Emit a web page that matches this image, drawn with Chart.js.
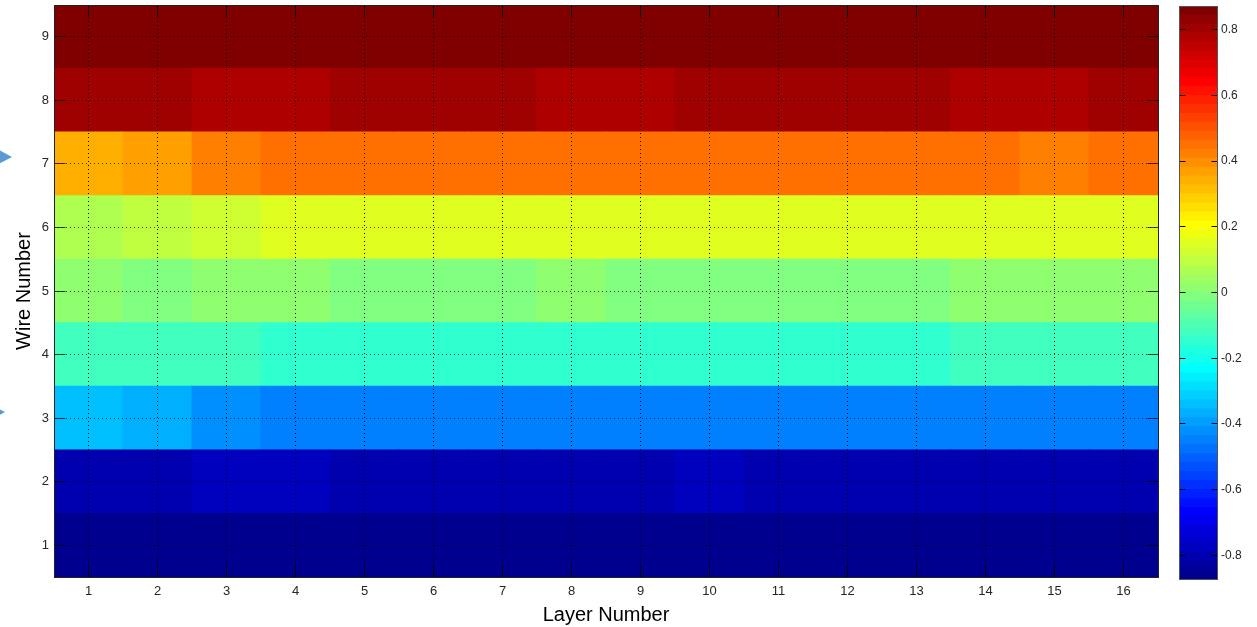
<!DOCTYPE html>
<html>
<head>
<meta charset="utf-8">
<script src="https://cdn.jsdelivr.net/npm/chart.js@4.4.1/dist/chart.umd.min.js"></script>
<style>
  html, body { margin: 0; padding: 0; background: #fff; }
  #wrap { position: relative; width: 1257px; height: 627px; overflow: hidden; }
  #map { position: absolute; left: 0; top: 0; }
  #bar { position: absolute; left: 1170px; top: 0; }
</style>
</head>
<body>
<div id="wrap">
  <canvas id="map" width="1170" height="627"></canvas>
  <canvas id="bar" width="87" height="627"></canvas>
</div>
<script>
// Data
const layers = ['1','2','3','4','5','6','7','8','9','10','11','12','13','14','15','16'];
const wires = [1, 2, 3, 4, 5, 6, 7, 8, 9];
const wire1 = [-0.86,-0.86,-0.86,-0.86,-0.86,-0.86,-0.86,-0.86,-0.86,-0.86,-0.86,-0.86,-0.86,-0.86,-0.86,-0.86];
const wire2 = [-0.80,-0.80,-0.78,-0.78,-0.80,-0.80,-0.80,-0.80,-0.80,-0.78,-0.80,-0.80,-0.80,-0.80,-0.80,-0.80];
const wire3 = [-0.34,-0.37,-0.42,-0.45,-0.45,-0.45,-0.45,-0.45,-0.45,-0.45,-0.45,-0.45,-0.45,-0.45,-0.45,-0.45];
const wire4 = [-0.12,-0.12,-0.13,-0.15,-0.15,-0.15,-0.15,-0.15,-0.15,-0.15,-0.15,-0.15,-0.15,-0.13,-0.13,-0.12];
const wire5 = [0.02,-0.01,0.01,0.01,-0.01,-0.01,-0.01,0.02,-0.01,-0.01,-0.01,-0.01,-0.01,0.01,0.01,0.01];
const wire6 = [0.07,0.10,0.12,0.15,0.15,0.16,0.16,0.15,0.15,0.16,0.16,0.15,0.15,0.15,0.15,0.16];
const wire7 = [0.34,0.37,0.42,0.45,0.45,0.45,0.45,0.45,0.45,0.45,0.45,0.45,0.45,0.45,0.42,0.44];
const wire8 = [0.80,0.80,0.78,0.78,0.80,0.80,0.80,0.78,0.78,0.80,0.80,0.80,0.80,0.78,0.78,0.80];
const wire9 = [0.86,0.86,0.87,0.87,0.86,0.86,0.86,0.87,0.87,0.86,0.86,0.86,0.86,0.87,0.87,0.86];
const cellValues = [wire1, wire2, wire3, wire4, wire5, wire6, wire7, wire8, wire9];
const colorTicks = [-0.8, -0.6, -0.4, -0.2, 0, 0.2, 0.4, 0.6, 0.8];
const cMin = -0.872, cMax = 0.872;
const nColors = 64;

const fam = '"Liberation Sans", Arial, Helvetica, sans-serif';

// jet(64) like matlab
function jetIndex(v) {
  const i = Math.floor((v - cMin) / (cMax - cMin) * nColors) + 1;
  return Math.min(nColors, Math.max(1, i));
}
function jetColor(i) {
  const c = x => Math.round(255 * Math.min(1, Math.max(0, x)));
  const r = c(Math.min((i - 24) / 16, (72 - i) / 16));
  const g = c(Math.min((i - 8) / 16, (56 - i) / 16));
  const b = c(Math.min((i + 8) / 16, (40 - i) / 16));
  return `rgb(${r},${g},${b})`;
}

// box + inward ticks on all sides, plus the two arrow marks
const arrowMarks = [{wire: 7, tip: 12, dy: -7}, {wire: 3, tip: 5, dy: -6}];
const axesBox = {
  id: 'axesBox',
  afterDraw(chart) {
    const {ctx, chartArea: a, scales: {x, y}} = chart;
    const L = Math.floor(a.left) + 0.5, R = Math.floor(a.right) + 0.5;
    const T = Math.floor(a.top) + 0.5, B = Math.floor(a.bottom) + 0.5;
    const tl = 11;
    ctx.save();
    ctx.lineWidth = 1;
    ctx.strokeStyle = '#000';
    ctx.beginPath();
    x.ticks.forEach((t, i) => {
      const px = Math.floor(x.getPixelForTick(i)) + 0.5;
      ctx.moveTo(px, B); ctx.lineTo(px, B - tl);
      ctx.moveTo(px, T); ctx.lineTo(px, T + tl);
    });
    ctx.stroke();
    ctx.strokeStyle = 'rgba(0,0,0,0.75)';
    ctx.beginPath();
    y.ticks.forEach(t => {
      const py = Math.floor(y.getPixelForValue(t.value)) + 0.5;
      ctx.moveTo(L, py); ctx.lineTo(L + tl, py);
      ctx.moveTo(R, py); ctx.lineTo(R - tl, py);
    });
    ctx.stroke();
    ctx.strokeStyle = '#222';
    ctx.strokeRect(L, T, R - L, B - T);
    ctx.fillStyle = '#5B9BD5';
    arrowMarks.forEach(m => {
      const py = y.getPixelForValue(m.wire) + m.dy;
      ctx.beginPath();
      ctx.moveTo(m.tip - 15, py - 8);
      ctx.lineTo(m.tip, py);
      ctx.lineTo(m.tip - 15, py + 8);
      ctx.closePath();
      ctx.fill();
    });
    ctx.restore();
  }
};

new Chart(document.getElementById('map').getContext('2d'), {
  type: 'bar',
  data: {
    labels: layers,
    datasets: wires.map((w, k) => ({
      label: 'Wire ' + w,
      data: cellValues[k].map(() => [w - 0.5, w + 0.5]),
      backgroundColor: cellValues[k].map(v => jetColor(jetIndex(v))),
      borderWidth: 0,
      inflateAmount: 0.5,
      barPercentage: 1,
      categoryPercentage: 1,
      grouped: false
    }))
  },
  options: {
    responsive: false,
    animation: false,
    devicePixelRatio: 1,
    layout: { padding: { left: 0, top: 5, right: 12, bottom: 0 } },
    plugins: { legend: { display: false }, tooltip: { enabled: false } },
    scales: {
      x: {
        type: 'category',
        offset: true,
        grid: { offset: false, color: '#000', lineWidth: 1, drawTicks: false, z: 1 },
        border: { display: false, dash: [1, 3] },
        ticks: { color: '#262626', font: { family: fam, size: 13 }, padding: 7, maxRotation: 0, autoSkip: false },
        title: { display: true, text: 'Layer Number', color: '#000', font: { family: fam, size: 20 }, padding: { top: 0, bottom: 0 } },
        afterFit: s => { s.height = 50; s.paddingLeft = 0; s.paddingRight = 0; }
      },
      y: {
        type: 'linear',
        min: 0.5,
        max: 9.5,
        grid: { color: 'rgba(0,0,0,0.7)', lineWidth: 1, drawTicks: false, z: 1 },
        border: { display: false, dash: [1, 3] },
        ticks: { color: '#262626', font: { family: fam, size: 13 }, padding: 5 },
        afterBuildTicks: s => { s.ticks = wires.map(v => ({ value: v })); },
        title: { display: true, text: 'Wire Number', color: '#000', font: { family: fam, size: 20 }, padding: { top: 12, bottom: 0 } },
        afterFit: s => { s.width = 54; s.paddingTop = 0; s.paddingBottom = 0; }
      }
    }
  },
  plugins: [axesBox]
});

// Colorbar
const binWidth = (cMax - cMin) / nColors;
const colorBins = Array.from({ length: nColors }, (_, i) => i + 1);

const barBox = {
  id: 'barBox',
  afterDraw(chart) {
    const {ctx, chartArea: a, scales: {y}} = chart;
    const L = Math.floor(a.left) + 0.5, R = Math.floor(a.right) - 0.5;
    const T = Math.floor(a.top) + 0.5, B = Math.floor(a.bottom) + 0.5;
    ctx.save();
    ctx.lineWidth = 1;
    ctx.strokeStyle = '#000';
    ctx.beginPath();
    y.ticks.forEach(t => {
      const py = Math.floor(y.getPixelForValue(t.value)) + 0.5;
      ctx.moveTo(L, py); ctx.lineTo(L + 6, py);
      ctx.moveTo(R, py); ctx.lineTo(R - 6, py);
    });
    ctx.stroke();
    ctx.strokeStyle = '#555';
    ctx.strokeRect(L, T, R - L, B - T);
    ctx.restore();
  }
};

new Chart(document.getElementById('bar').getContext('2d'), {
  type: 'bar',
  data: {
    labels: [''],
    datasets: colorBins.map(i => ({
      data: [[cMin + (i - 1) * binWidth, cMin + i * binWidth]],
      backgroundColor: jetColor(i),
      borderWidth: 0,
      inflateAmount: 0.5,
      barPercentage: 1,
      categoryPercentage: 1,
      grouped: false
    }))
  },
  options: {
    responsive: false,
    animation: false,
    devicePixelRatio: 1,
    layout: { padding: { left: 9, top: 6, right: 0, bottom: 48 } },
    plugins: { legend: { display: false }, tooltip: { enabled: false } },
    scales: {
      x: { display: false },
      y: {
        position: 'right',
        min: cMin,
        max: cMax,
        grid: { display: false, drawTicks: false },
        border: { display: false },
        afterBuildTicks: s => { s.ticks = colorTicks.map(v => ({ value: v })); },
        ticks: {
          padding: 3,
          color: '#262626', font: { family: fam, size: 12 },
          callback: v => String(v)
        },
        afterFit: s => { s.width = 39; s.paddingTop = 0; s.paddingBottom = 0; }
      }
    }
  },
  plugins: [barBox]
});
</script>
</body>
</html>
